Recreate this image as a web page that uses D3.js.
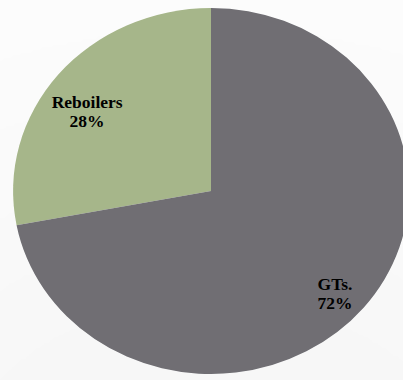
<!DOCTYPE html>
<html>
<head>
<meta charset="utf-8">
<script src="https://cdn.jsdelivr.net/npm/d3@7"></script>
<style>
  html, body { margin: 0; padding: 0; background: #ffffff; }
  svg { display: block; }
</style>
</head>
<body>
<svg id="chart" width="403" height="380"></svg>
<script>
// Share of fuel consumption by consumer
const categories = ["Reboilers", "GTs."];
const shares = [28, 72];
const sliceColors = ["#a6b68a", "#6f6e73"];

const width = 403, height = 380;
const cx = 211, cy = 191;
const rx = 198, ry = 183;

const svg = d3.select("#chart");

// soft drop shadow under the pie
const defs = svg.append("defs");
const f = defs.append("filter").attr("id", "pieShadow")
  .attr("x", "-10%").attr("y", "-10%").attr("width", "120%").attr("height", "120%");
f.append("feDropShadow").attr("dx", 0).attr("dy", 2)
  .attr("stdDeviation", 2).attr("flood-color", "#000").attr("flood-opacity", 0.3);

const data = categories.map((c, i) => ({ name: c, value: shares[i], color: sliceColors[i] }));

// Reboilers slice sits counter-clockwise from 12 o'clock, GTs. fills the rest
const pie = d3.pie().value(d => d.value).sort(null)
  .startAngle(-2 * Math.PI * shares[0] / 100)
  .endAngle(2 * Math.PI - 2 * Math.PI * shares[0] / 100);

const arcs = pie(data);

// pie drawn on a unit radius, then stretched to the slightly oval shape
const arc = d3.arc().innerRadius(0).outerRadius(1);

const g = svg.append("g")
  .attr("transform", `translate(${cx},${cy}) scale(${rx},${ry})`)
  .attr("filter", "url(#pieShadow)");

g.selectAll("path").data(arcs).join("path")
  .attr("d", arc)
  .attr("fill", d => d.data.color);

// labels placed near each slice's bisector
const labelRadius = { "Reboilers": 0.765, "GTs.": 0.837 };
const labelTurn = { "Reboilers": -0.078, "GTs.": 0.034 };

const labels = svg.append("g");
arcs.forEach(a => {
  const mid = (a.startAngle + a.endAngle) / 2 + labelTurn[a.data.name];
  const r = labelRadius[a.data.name];
  const x = cx + rx * r * Math.sin(mid);
  const y = cy - ry * r * Math.cos(mid);
  const t = labels.append("text")
    .attr("x", x).attr("y", y)
    .attr("text-anchor", "middle")
    .attr("font-family", "'Liberation Serif', 'Times New Roman', serif")
    .attr("font-weight", "bold")
    .attr("font-size", 17.5)
    .attr("fill", "#000");
  t.append("tspan").attr("x", x).attr("dy", "-0.15em").text(a.data.name);
  t.append("tspan").attr("x", x).attr("dy", "1.1em").text(a.data.value + "%");
});
</script>
</body>
</html>
